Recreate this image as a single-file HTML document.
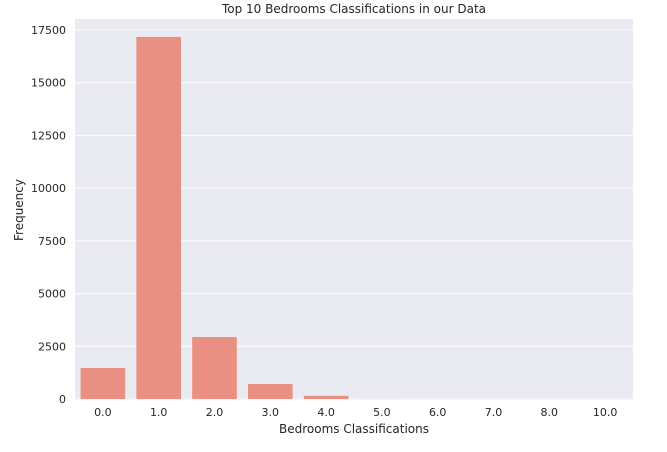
<!DOCTYPE html>
<html><head><meta charset="utf-8"><style>
body{margin:0;background:#fff;font-family:"Liberation Sans","DejaVu Sans",sans-serif}
svg text{font-family:"DejaVu Sans","Liberation Sans",sans-serif;fill:#262626}
</style></head><body>
<svg id="chart" width="667" height="447" xmlns="http://www.w3.org/2000/svg">
<rect x="75" y="19" width="558" height="381" fill="#eaeaf2"/>
<g id="grid"></g><g id="bars"></g><g id="xt"></g><g id="yt"></g>
<text x="354" y="13" text-anchor="middle" font-size="12">Top 10 Bedrooms Classifications in our Data</text>
<text x="354" y="433" text-anchor="middle" font-size="12">Bedrooms Classifications</text>
<text x="23" y="210" text-anchor="middle" font-size="12" transform="rotate(-90 23 210)">Frequency</text>
</svg>
<script>
const categories=["0.0","1.0","2.0","3.0","4.0","5.0","6.0","7.0","8.0","10.0"];
const values=[1470,17170,2940,711,150,5,3,2,1,1];
const yTicks=[0,2500,5000,7500,10000,12500,15000,17500];
const NS="http://www.w3.org/2000/svg";
const x0=75,w=558,y0=399,yTop=30,ymax=17500;
const bw=w/categories.length;
const y=v=>y0-(v/ymax)*(y0-yTop);
function mk(t,a,p){const e=document.createElementNS(NS,t);for(const k in a)e.setAttribute(k,a[k]);p.appendChild(e);return e;}
yTicks.forEach(t=>{
 const g=mk("line",{x1:x0,x2:x0+w,y1:y(t),y2:y(t),stroke:"#fff","stroke-width":1},document.getElementById("grid"));
 
 
 const tx=mk("text",{x:66,y:y(t)+4,"text-anchor":"end","font-size":"11"},document.getElementById("yt"));
 tx.textContent=t;
 
 
});
categories.forEach((c,i)=>{
 const cx=x0+bw*(i+0.5),bwid=bw*0.8;
 const r=mk("rect",{x:cx-bwid/2,y:y(values[i]),width:bwid,height:y0-y(values[i]),fill:"#ea9082"},document.getElementById("bars"));
 
 
 const tx=mk("text",{x:cx,y:416,"text-anchor":"middle","font-size":"11"},document.getElementById("xt"));
 tx.textContent=c;
 
 
});
</script>
</body></html>
